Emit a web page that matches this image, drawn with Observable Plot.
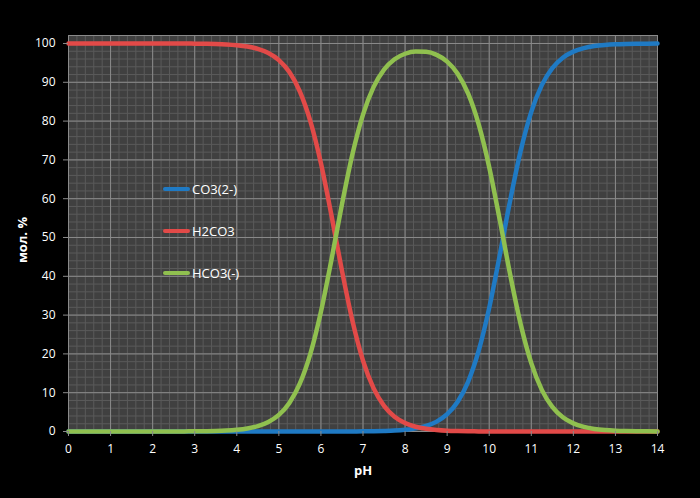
<!DOCTYPE html>
<html>
<head>
<meta charset="utf-8">
<script src="https://cdn.jsdelivr.net/npm/d3@7"></script>
<script src="https://cdn.jsdelivr.net/npm/@observablehq/plot@0.6"></script>
<style>
  html, body { margin: 0; padding: 0; background: #000; }
  #wrap { position: relative; width: 700px; height: 498px; background: #000; font-family: "Open Sans", sans-serif; }
  .lab { position: absolute; color: #fff; font-weight: bold; font-size: 13px; }
  .leg { position: absolute; left: 163px; display: flex; align-items: center; color: #fff; font-size: 13px; }
  .leg span.sw { display: inline-block; width: 27px; height: 4px; border-radius: 2px; margin-right: 2px; }
</style>
</head>
<body>
<div id="wrap"></div>
<script>
const pH = [0,0.25,0.5,0.75,1,1.25,1.5,1.75,2,2.25,2.5,2.75,3,3.25,3.5,3.75,4,4.25,4.5,4.75,5,5.25,5.5,5.75,6,6.25,6.5,6.75,7,7.25,7.5,7.75,8,8.25,8.5,8.75,9,9.25,9.5,9.75,10,10.25,10.5,10.75,11,11.25,11.5,11.75,12,12.25,12.5,12.75,13,13.25,13.5,13.75,14];
const co3 = [0,0,0,0,0,0,0,0,0,0,0,0,0,0,0,0,0,0,0,0,0,0,0,0,0,0,0,0.02,0.04,0.07,0.14,0.25,0.46,0.81,1.45,2.55,4.46,7.67,12.88,20.82,31.86,45.41,59.66,72.45,82.39,89.27,93.67,96.34,97.91,98.81,99.33,99.62,99.79,99.88,99.93,99.96,99.98];
const h2co3 = [100,100,100,100,100,100,100,100,100,100,100,100,99.96,99.92,99.86,99.75,99.55,99.21,98.61,97.55,95.72,92.64,87.62,79.92,69.12,55.73,41.45,28.47,18.28,11.17,6.60,3.82,2.18,1.23,0.69,0.39,0.21,0.12,0.06,0.03,0.02,0,0,0,0,0,0,0,0,0,0,0,0,0,0,0,0];
const hco3 = [0,0,0,0,0,0,0,0,0,0.01,0.01,0.03,0.04,0.08,0.14,0.25,0.45,0.79,1.39,2.45,4.28,7.36,12.38,20.08,30.88,44.27,58.55,71.51,81.68,88.75,93.26,95.93,97.36,97.95,97.86,97.06,95.33,92.21,87.06,79.15,68.13,54.59,40.34,27.55,17.61,10.73,6.33,3.66,2.09,1.19,0.67,0.38,0.21,0.12,0.07,0.04,0.02];

const seriesNames = ["CO3(2-)", "H2CO3", "HCO3(-)"];
const seriesColors = ["#1f7ac4", "#e24a48", "#90c04f"];
const seriesValues = [co3, h2co3, hco3];

const xTicks = [0,1,2,3,4,5,6,7,8,9,10,11,12,13,14];
const yTicks = [0,10,20,30,40,50,60,70,80,90,100];
const xMinor = d3.range(0, 14.001, 0.2).map(v => +v.toFixed(1));
const yMinor = d3.range(0, 102, 2);

const rows = [];
seriesNames.forEach((name, i) => {
  pH.forEach((x, j) => rows.push({series: name, pH: x, value: seriesValues[i][j]}));
});

const chart = Plot.plot({
  width: 700,
  height: 498,
  marginLeft: 68,
  marginRight: 43,
  marginTop: 35,
  marginBottom: 67,
  style: {background: "#000", fontFamily: "'Open Sans', sans-serif", fontSize: "12px", color: "#fff"},
  x: {domain: [0, 14]},
  y: {domain: [0, 102.06]},
  color: {domain: seriesNames, range: seriesColors},
  marks: [
    Plot.frame({fill: "#404040", stroke: null}),
    Plot.ruleX(xMinor, {stroke: "#5a5a5a", strokeWidth: 1}),
    Plot.ruleY(yMinor, {stroke: "#5a5a5a", strokeWidth: 1}),
    Plot.ruleX(xTicks, {stroke: "#8a8a8a", strokeWidth: 1}),
    Plot.ruleY(yTicks, {stroke: "#8a8a8a", strokeWidth: 1}),
    Plot.frame({stroke: "#8a8a8a"}),
    Plot.lineY(rows, {x: "pH", y: "value", z: "series", stroke: "series", strokeWidth: 4.5, curve: "monotone-x"}),
    Plot.axisX({ticks: xTicks, tickSize: 5, tickPadding: 8, stroke: "#8a8a8a", fill: "#fff", label: null, tickFormat: d => d}),
    Plot.axisY({ticks: yTicks, tickSize: 5, tickPadding: 8, stroke: "#8a8a8a", fill: "#fff", label: null, tickFormat: d => d})
  ]
});

const wrap = document.getElementById("wrap");
wrap.appendChild(chart);
chart.style.position = "absolute";
chart.style.left = "0px";
chart.style.top = "0px";

const xl = document.createElement("div");
xl.className = "lab"; xl.textContent = "pH";
xl.style.left = "354px"; xl.style.top = "461px";
wrap.appendChild(xl);

const yl = document.createElement("div");
yl.className = "lab"; yl.textContent = "мол. %";
yl.style.left = "22px"; yl.style.top = "240px";
yl.style.transform = "translate(-50%, -50%) rotate(-90deg)";
yl.style.whiteSpace = "nowrap";
wrap.appendChild(yl);

const legY = [189, 231, 273];
seriesNames.forEach((name, i) => {
  const d = document.createElement("div");
  d.className = "leg";
  d.style.top = (legY[i] - 9) + "px";
  d.style.height = "18px";
  d.innerHTML = `<span class="sw" style="background:${seriesColors[i]}"></span><span>${name}</span>`;
  wrap.appendChild(d);
});
</script>
</body>
</html>
